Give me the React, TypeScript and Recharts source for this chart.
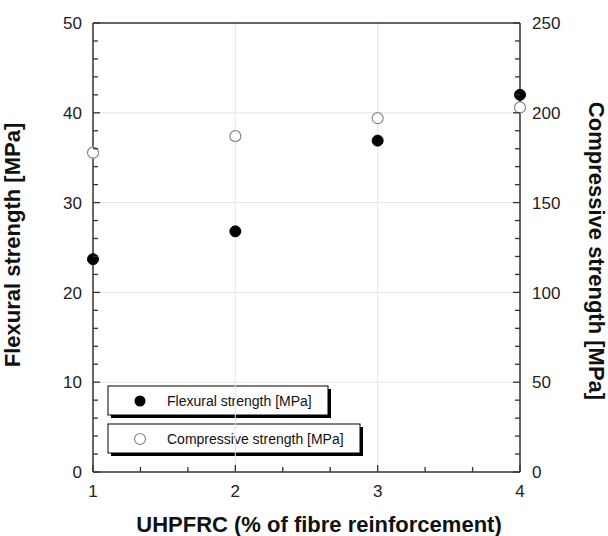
import React from 'react';
import { ScatterChart, Scatter, XAxis, YAxis, ReferenceLine, Customized } from 'recharts';

const fibre = [1, 2, 3, 4];
const flexural = [23.7, 26.8, 36.9, 42.0];
const compressive = [177.8, 187.0, 197.0, 203.0];
const xTicks = [1, 2, 3, 4];
const leftTicks = [0, 10, 20, 30, 40, 50];
const rightTicks = [0, 50, 100, 150, 200, 250];

const flexData = fibre.map((x, i) => ({ x, y: flexural[i] }));
const compData = fibre.map((x, i) => ({ x, y: compressive[i] }));

const withMinor = (majors: number[], parts: number) => {
  const out: number[] = [];
  for (let i = 0; i < majors.length; i++) {
    out.push(majors[i]);
    if (i < majors.length - 1) {
      const step = (majors[i + 1] - majors[i]) / parts;
      for (let k = 1; k < parts; k++) out.push(majors[i] + step * k);
    }
  }
  return out;
};
const xAll = withMinor(xTicks, 3);
const leftAll = withMinor(leftTicks, 5);
const rightAll = withMinor(rightTicks, 5);

const isMajor = (v: number, majors: number[]) => majors.some((m) => Math.abs(m - v) < 1e-6);

const FONT = '"Liberation Sans", Arial, Helvetica, sans-serif';
const AXIS = '#333';
const GRID = '#e6e6e6';

const LeftTick = (p: any) => {
  const { x, y, payload } = p;
  const major = isMajor(payload.value, leftTicks);
  return (
    <g>
      <line x1={x} x2={x + (major ? 7 : 5)} y1={y} y2={y} stroke={AXIS} strokeWidth={1.3} />
      {major && (
        <text x={x - 11} y={y} dy="0.36em" textAnchor="end" fontSize={17} fontFamily={FONT} fill="#222">
          {payload.value}
        </text>
      )}
    </g>
  );
};
const RightTick = (p: any) => {
  const { x, y, payload } = p;
  const major = isMajor(payload.value, rightTicks);
  return (
    <g>
      <line x1={x} x2={x - (major ? 7 : 5)} y1={y} y2={y} stroke={AXIS} strokeWidth={1.3} />
      {major && (
        <text x={x + 12} y={y} dy="0.36em" textAnchor="start" fontSize={17} fontFamily={FONT} fill="#222">
          {payload.value}
        </text>
      )}
    </g>
  );
};
const BottomTick = (p: any) => {
  const { x, y, payload } = p;
  const major = isMajor(payload.value, xTicks);
  return (
    <g>
      <line x1={x} x2={x} y1={y} y2={y - (major ? 7 : 5)} stroke={AXIS} strokeWidth={1.3} />
      {major && (
        <text x={x} y={y + 25} textAnchor="middle" fontSize={17} fontFamily={FONT} fill="#222">
          {payload.value}
        </text>
      )}
    </g>
  );
};
const TopTick = (p: any) => {
  const { x, y, payload } = p;
  const major = isMajor(payload.value, xTicks);
  return <line x1={x} x2={x} y1={y} y2={y + (major ? 7 : 5)} stroke={AXIS} strokeWidth={1.3} />;
};

const FilledDot = (p: any) => <circle cx={p.cx} cy={p.cy} r={5.5} fill="#000" stroke="#000" />;
const OpenDot = (p: any) => <circle cx={p.cx} cy={p.cy} r={5.5} fill="#fff" stroke="#888" strokeWidth={1.2} />;

const Decorations = () => (
  <g fontFamily={FONT}>
    <text x={319} y={532} textAnchor="middle" fontSize={22} fontWeight="bold" fill="#111">
      UHPFRC (% of fibre reinforcement)
    </text>
    <text x={20} y={245} textAnchor="middle" fontSize={22} fontWeight="bold" fill="#111" transform="rotate(-90 20 245)">
      Flexural strength [MPa]
    </text>
    <text x={589} y={251} textAnchor="middle" fontSize={22} fontWeight="bold" fill="#111" transform="rotate(90 589 251)">
      Compressive strength [MPa]
    </text>
    <rect x={111} y={389} width={220} height={29} fill="#000" />
    <rect x={108} y={386} width={220} height={29} fill="#fff" stroke="#000" strokeWidth={1} />
    <circle cx={140} cy={401} r={5.5} fill="#000" />
    <text x={167} y={406} fontSize={14} fill="#111">Flexural strength [MPa]</text>
    <rect x={111} y={427} width={252} height={29} fill="#000" />
    <rect x={108} y={424} width={252} height={29} fill="#fff" stroke="#000" strokeWidth={1} />
    <circle cx={140} cy={439} r={5.5} fill="#fff" stroke="#888" strokeWidth={1.2} />
    <text x={167} y={444} fontSize={14} fill="#111">Compressive strength [MPa]</text>
  </g>
);

export default function App() {
  return (
    <div style={{ position: 'absolute', left: 0, top: 0 }}>
      <ScatterChart width={608} height={536} margin={{ top: 22, right: 28, bottom: 24, left: 33 }}>
        <XAxis
          dataKey="x"
          type="number"
          domain={[1, 4]}
          ticks={xAll}
          interval={0}
          tickSize={0}
          tickMargin={0}
          height={40}
          tick={BottomTick}
          tickLine={false}
          axisLine={{ stroke: AXIS, strokeWidth: 1.5 }}
        />
        <XAxis
          xAxisId="top"
          orientation="top"
          dataKey="x"
          type="number"
          domain={[1, 4]}
          ticks={xAll}
          interval={0}
          tickSize={0}
          tickMargin={0}
          height={1}
          tick={TopTick}
          tickLine={false}
          axisLine={{ stroke: AXIS, strokeWidth: 1.5 }}
        />
        <YAxis
          yAxisId="left"
          dataKey="y"
          type="number"
          domain={[0, 50]}
          ticks={leftAll}
          interval={0}
          tickSize={0}
          tickMargin={0}
          width={60}
          tick={LeftTick}
          tickLine={false}
          axisLine={{ stroke: AXIS, strokeWidth: 1.5 }}
        />
        <YAxis
          yAxisId="right"
          orientation="right"
          dataKey="y"
          type="number"
          domain={[0, 250]}
          ticks={rightAll}
          interval={0}
          tickSize={0}
          tickMargin={0}
          width={60}
          tick={RightTick}
          tickLine={false}
          axisLine={{ stroke: AXIS, strokeWidth: 1.5 }}
        />
        {[10, 20, 30, 40].map((v) => (
          <ReferenceLine key={'h' + v} yAxisId="left" y={v} stroke={GRID} strokeWidth={1} />
        ))}
        {[2, 3].map((v) => (
          <ReferenceLine key={'v' + v} yAxisId="left" x={v} stroke={GRID} strokeWidth={1} />
        ))}
        <Scatter name="Flexural strength [MPa]" data={flexData} yAxisId="left" shape={FilledDot} isAnimationActive={false} />
        <Scatter name="Compressive strength [MPa]" data={compData} yAxisId="right" shape={OpenDot} isAnimationActive={false} />
        <Customized component={Decorations} />
      </ScatterChart>
    </div>
  );
}
